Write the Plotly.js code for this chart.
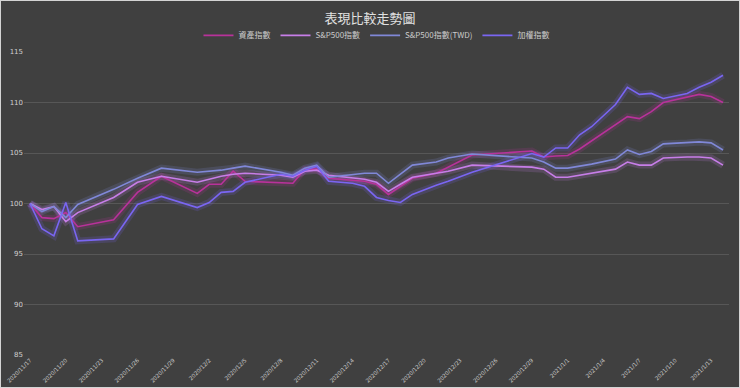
<!DOCTYPE html>
<html>
<head>
<meta charset="utf-8">
<script src="https://cdn.plot.ly/plotly-3.0.1.min.js"></script>
<style>
html,body{margin:0;padding:0;background:#d4d4d4;}
#chart{position:absolute;left:1px;top:1px;width:738px;height:386px;}
</style>
</head>
<body>
<div id="chart"></div>
<script>
const dates = ["2020-11-17","2020-11-18","2020-11-19","2020-11-20","2020-11-21","2020-11-24","2020-11-26","2020-11-28",
"2020-12-01","2020-12-02","2020-12-03","2020-12-04","2020-12-05","2020-12-08","2020-12-09","2020-12-10","2020-12-11","2020-12-12",
"2020-12-14","2020-12-15","2020-12-16","2020-12-17","2020-12-18","2020-12-19","2020-12-21","2020-12-22","2020-12-24",
"2020-12-29","2020-12-30","2020-12-31","2021-01-01","2021-01-02","2021-01-03","2021-01-05","2021-01-06","2021-01-07",
"2021-01-08","2021-01-09","2021-01-11","2021-01-12","2021-01-13","2021-01-14"];

const assetIndex = [100,98.6,98.5,99.1,97.7,98.4,101.1,102.7,
101.0,101.9,101.9,103.2,102.2,102.1,102.0,103.4,103.4,102.5,
102.3,102.2,101.9,100.9,101.7,102.5,103.0,103.6,104.8,
105.2,104.6,104.7,104.75,105.4,106.2,107.8,108.6,108.4,
109.1,110.0,110.5,110.8,110.6,110.0];

const sp500 = [100,99.4,99.7,98.2,99.1,100.6,102.1,102.7,
102.1,102.4,102.7,102.9,103.0,102.8,102.6,103.2,103.3,102.8,
102.5,102.4,102.1,101.2,101.9,102.6,103.0,103.2,103.8,
103.6,103.4,102.6,102.6,102.8,103.0,103.4,104.1,103.8,
103.8,104.5,104.6,104.6,104.5,103.8];

const sp500TWD = [100,99.2,99.7,98.6,99.9,101.4,102.5,103.5,
103.1,103.2,103.3,103.5,103.7,103.1,102.8,103.5,103.8,102.6,
102.9,103.0,103.0,102.0,102.9,103.8,104.1,104.5,104.9,
104.5,104.1,103.5,103.5,103.7,103.9,104.4,105.3,104.85,
105.15,105.9,106.0,106.1,106.0,105.3];

const taiex = [100,97.5,96.8,100.1,96.3,96.5,99.9,100.7,
99.6,100.1,101.1,101.2,102.1,102.9,102.7,103.3,103.7,102.2,
102.0,101.7,100.6,100.3,100.1,100.9,101.8,102.2,103.1,
104.95,104.6,105.5,105.5,106.8,107.6,109.8,111.5,110.8,
110.9,110.4,110.9,111.5,112.0,112.7];

const seriesNames = ["資產指數","S&P500指數","S&P500指數(TWD)","加權指數"];
const seriesValues = [assetIndex, sp500, sp500TWD, taiex];
const seriesColors = ["#b8329a","#c77ee8","#8088d8","#7a66f2"];

const tickDates = ["2020-11-17","2020-11-20","2020-11-23","2020-11-26","2020-11-29","2020-12-02","2020-12-05","2020-12-08",
"2020-12-11","2020-12-14","2020-12-17","2020-12-20","2020-12-23","2020-12-26","2020-12-29","2021-01-01","2021-01-04",
"2021-01-07","2021-01-10","2021-01-13"];
const tickLabels = ["2020/11/17","2020/11/20","2020/11/23","2020/11/26","2020/11/29","2020/12/2","2020/12/5","2020/12/8",
"2020/12/11","2020/12/14","2020/12/17","2020/12/20","2020/12/23","2020/12/26","2020/12/29","2021/1/1","2021/1/4",
"2021/1/7","2021/1/10","2021/1/13"];

const traces = [];
// glow layers
seriesValues.forEach((vals, i) => {
  traces.push({x: dates, y: vals, type: "scatter", mode: "lines", showlegend: false, hoverinfo: "skip",
    line: {color: seriesColors[i], width: 7}, opacity: 0.18});
});
seriesValues.forEach((vals, i) => {
  traces.push({x: dates, y: vals, type: "scatter", mode: "lines", name: seriesNames[i],
    line: {color: seriesColors[i], width: 1.6}});
});

const layout = {
  width: 738, height: 386,
  paper_bgcolor: "#404040", plot_bgcolor: "#404040",
  margin: {l: 23, r: 10, t: 51, b: 32},
  title: {text: "表現比較走勢圖", x: 0.5, xanchor: "center", y: 0.955, yanchor: "middle",
    font: {family: "Noto Sans CJK TC, sans-serif", size: 13, color: "#e0e0e0"}},
  showlegend: true,
  legend: {orientation: "h", x: 0.5, xanchor: "center", y: 1.055, yanchor: "middle",
    font: {family: "Noto Sans CJK TC, sans-serif", size: 8, color: "#cccccc"},
    bgcolor: "rgba(0,0,0,0)", itemwidth: 30, traceorder: "normal"},
  xaxis: {type: "date", range: ["2020-11-16 12:00", "2021-01-14 12:00"],
    tickmode: "array", tickvals: tickDates, ticktext: tickLabels, tickangle: -45,
    tickfont: {family: "DejaVu Sans, sans-serif", size: 5.5, color: "#cccccc"},
    showgrid: false, zeroline: false, showline: false, ticks: ""},
  yaxis: {range: [85, 115], dtick: 5, tick0: 85,
    tickfont: {family: "DejaVu Sans, sans-serif", size: 7, color: "#d0d0d0"},
    gridcolor: "#575757", gridwidth: 1, zeroline: false, showline: false, ticks: ""}
};

Plotly.newPlot("chart", traces, layout, {displayModeBar: false, staticPlot: true});
</script>
</body>
</html>
